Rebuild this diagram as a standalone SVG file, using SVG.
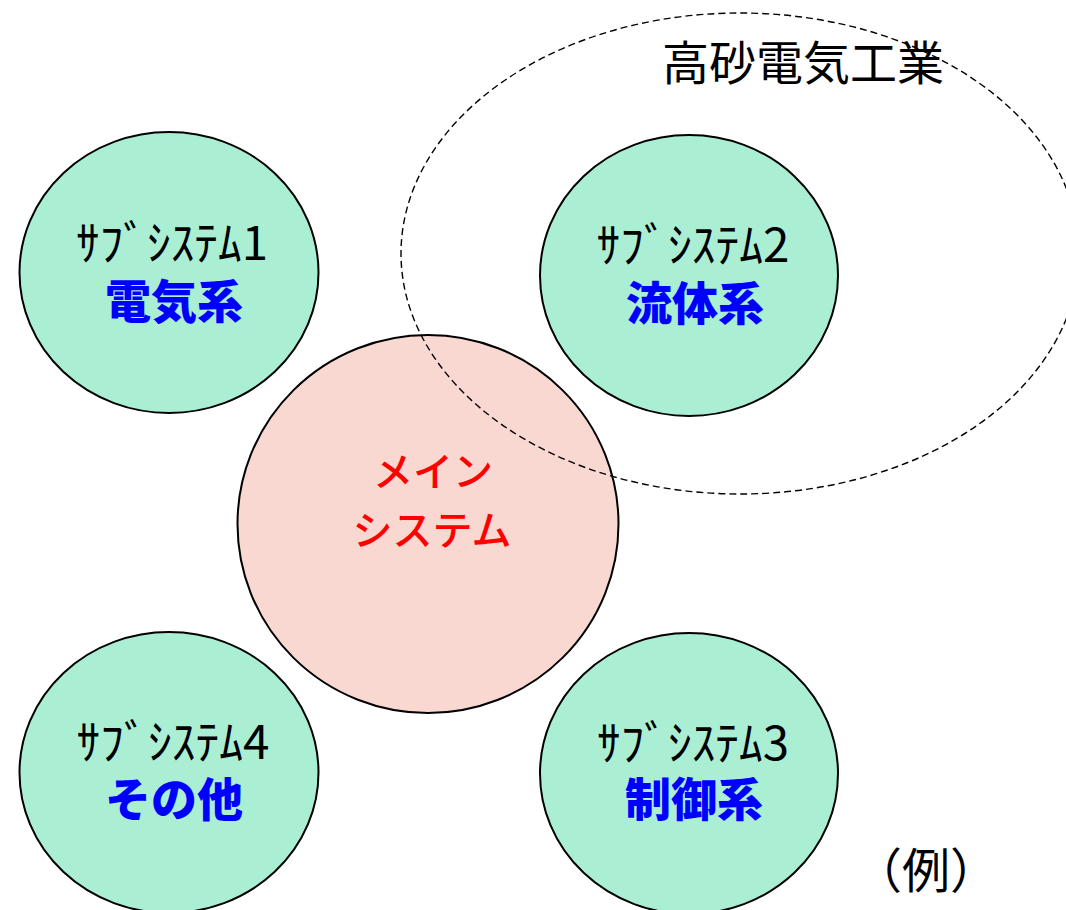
<svg xmlns="http://www.w3.org/2000/svg" width="1066" height="910" viewBox="0 0 1066 910">
<style>
.sub{fill:#AAEED4;stroke:#000;stroke-width:2}
.main{fill:#F9D8D2;stroke:#000;stroke-width:2}
.grp{fill:none;stroke:#000;stroke-width:1.4;stroke-dasharray:7 4}
.t1{font-family:"Noto Sans CJK JP","Liberation Sans",sans-serif;font-size:47px;fill:#000;text-anchor:middle}
.t2{font-family:"Noto Sans CJK JP","Liberation Sans",sans-serif;font-size:46px;font-weight:900;fill:#0000FF;text-anchor:middle}
.tm{font-family:"Noto Sans CJK JP","Liberation Sans",sans-serif;font-size:40px;font-weight:500;fill:#FF0000;text-anchor:middle}
.tb{font-family:"Noto Sans CJK JP","Liberation Sans",sans-serif;font-size:47px;fill:#000;text-anchor:middle}
</style>
<rect width="1066" height="910" fill="#FFFFFF"/>
<g id="sub1">
<ellipse class="sub" cx="169" cy="272.5" rx="149.5" ry="140.5"/>
<text class="t1" x="172" y="260" textLength="192" lengthAdjust="spacingAndGlyphs">ｻﾌﾞｼｽﾃﾑ1</text>
<text class="t2" x="174" y="318">電気系</text>
</g>
<g id="sub2">
<ellipse class="sub" cx="689" cy="275.5" rx="149" ry="140.5"/>
<text class="t1" x="693" y="262" textLength="193" lengthAdjust="spacingAndGlyphs">ｻﾌﾞｼｽﾃﾑ2</text>
<text class="t2" x="695" y="320">流体系</text>
</g>
<g id="sub4">
<ellipse class="sub" cx="169" cy="772.5" rx="149.5" ry="140.5"/>
<text class="t1" x="173" y="759" textLength="193" lengthAdjust="spacingAndGlyphs">ｻﾌﾞｼｽﾃﾑ4</text>
<text class="t2" x="174" y="816">その他</text>
</g>
<g id="sub3">
<ellipse class="sub" cx="689" cy="773.5" rx="149" ry="140.5"/>
<text class="t1" x="693" y="760" textLength="192" lengthAdjust="spacingAndGlyphs">ｻﾌﾞｼｽﾃﾑ3</text>
<text class="t2" x="694" y="816">制御系</text>
</g>
<g id="main">
<ellipse class="main" cx="428" cy="524" rx="190.5" ry="189"/>
<text class="tm" x="433" y="486">メイン</text>
<text class="tm" x="432" y="545">システム</text>
</g>
<g id="group-takasago">
<ellipse class="grp" cx="740" cy="253.5" rx="339" ry="240.5"/>
<text class="tb" x="803" y="80">高砂電気工業</text>
</g>
<g id="note">
<text class="tb" x="926" y="888" style="font-size:48px">（例）</text>
</g>
<g id="connectors"></g>
</svg>
